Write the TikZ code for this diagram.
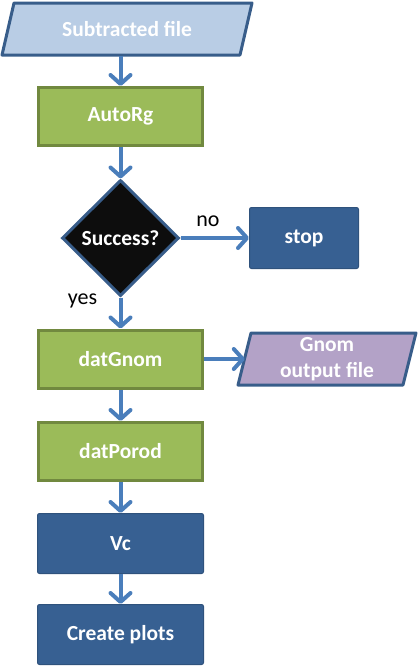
\documentclass[tikz,border=0pt]{standalone}
\usepackage{fontspec}
\setmainfont{Carlito}
\usetikzlibrary{shapes.geometric,arrows.meta}
\definecolor{lblue}{HTML}{B9CDE5}
\definecolor{dblue}{HTML}{385D8A}
\definecolor{boxblue}{HTML}{376092}
\definecolor{gfill}{HTML}{9BBB59}
\definecolor{gedge}{HTML}{71893F}
\definecolor{purp}{HTML}{B3A2C7}
\definecolor{arr}{HTML}{4A7EBB}
\tikzset{
  lbl/.style={font=\fontsize{21.5}{26}\selectfont\bfseries, text=white, align=center},
  greenbox/.style={lbl, draw=gedge, fill=gfill, line width=3pt, minimum width=164pt, minimum height=58pt, inner sep=0pt},
  bluebox/.style={lbl, draw=boxblue!85!black, fill=boxblue, line width=1pt, rounded corners=2pt, minimum width=166pt, minimum height=60pt, inner sep=0pt},
  ghost/.style={lbl, inner sep=0pt, minimum width=150pt, minimum height=52pt},
  para/.style={draw=dblue, line width=3pt, line join=round},
  flow/.style={draw=arr, line width=4pt, -{Straight Barb[length=9pt,width=20pt,line cap=round,line join=round]}},
  side/.style={font=\fontsize{22}{26}\selectfont, text=black}
}
\begin{document}
\begin{tikzpicture}[x=1pt,y=-1pt]
\useasboundingbox (0,0) rectangle (419,667);
% parallelograms
\path[para, fill=lblue] (14,3) -- (252,3) -- (240,55) -- (2,55) -- cycle;
\node[ghost] (sub) at (127,29) {Subtracted file};
\path[para, fill=purp] (251,333) -- (416,333) -- (403,385) -- (238,385) -- cycle;
\node[ghost, minimum width=164pt] (gnom) at (327,359) {Gnom\\output file};
% boxes
\node[greenbox] (autorg) at (120.5,116.5) {AutoRg};
\node[diamond, draw=dblue, fill=black!95, line width=3pt, minimum width=117pt, minimum height=116pt, inner sep=0pt, lbl] (succ) at (120.5,238) {Success?};
\node[bluebox, minimum width=109pt, minimum height=61pt] (stop) at (304,238) {stop};
\node[greenbox] (gn) at (120.5,359) {datGnom};
\node[greenbox] (porod) at (120.5,451.5) {datPorod};
\node[bluebox] (vc) at (120.5,543.5) {Vc};
\node[bluebox] (plots) at (120.5,634.5) {Create plots};
% connectors
\coordinate (subbot) at (120.5,56);
\draw[flow] (subbot) -- (autorg.north);
\draw[flow] (autorg.south) -- (succ.north);
\draw[flow] (succ.east) -- (stop.west) node[side, pos=0.4, above=6pt] {no};
\draw[flow] (succ.south) -- (gn.north) node[side, pos=0.1, left=18pt] {yes};
\draw[flow] (gn.east) -- (gnom.west);
\draw[flow] (gn.south) -- (porod.north);
\draw[flow] (porod.south) -- (vc.north);
\draw[flow] (vc.south) -- (plots.north);
\end{tikzpicture}
\end{document}
